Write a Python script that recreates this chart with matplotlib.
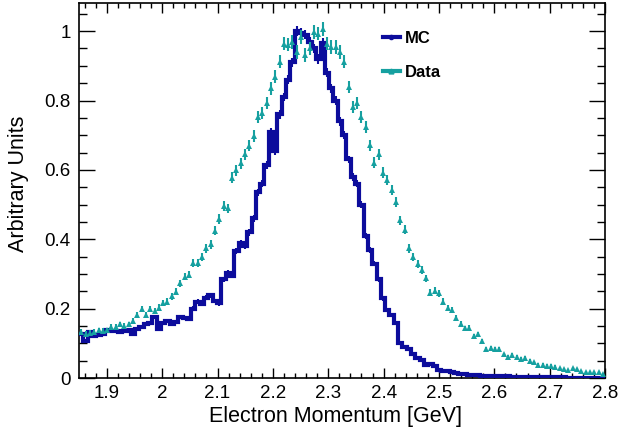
import numpy as np
import matplotlib.pyplot as plt
from matplotlib.lines import Line2D
from matplotlib.ticker import MultipleLocator, FuncFormatter

plt.rcParams['font.family'] = ['Liberation Sans', 'DejaVu Sans']

# binning of the momentum histograms (GeV)
p_min, p_max, n_bins = 1.85, 2.8, 122

# normalised MC histogram contents
mc_values = [
    0.127, 0.108, 0.133, 0.122, 0.124, 0.127, 0.138, 0.136, 0.136, 0.133,
    0.136, 0.138, 0.127, 0.141, 0.148, 0.155, 0.158, 0.175, 0.141, 0.159,
    0.165, 0.155, 0.162, 0.175, 0.172, 0.169, 0.200, 0.220, 0.213, 0.232,
    0.238, 0.222, 0.215, 0.285, 0.303, 0.295, 0.365, 0.390, 0.380, 0.420,
    0.460, 0.535, 0.560, 0.615, 0.710, 0.655, 0.760, 0.810, 0.860, 0.910,
    1.000, 0.995, 0.990, 0.970, 0.950, 0.920, 0.965, 0.880, 0.835, 0.800,
    0.740, 0.700, 0.630, 0.580, 0.560, 0.500, 0.410, 0.370, 0.330, 0.285,
    0.230, 0.196, 0.182, 0.160, 0.100, 0.090, 0.085, 0.070, 0.057, 0.052,
    0.037, 0.040, 0.035, 0.022, 0.021, 0.021, 0.016, 0.015, 0.012, 0.011,
    0.010, 0.010, 0.008, 0.007, 0.007, 0.007, 0.006, 0.005, 0.004, 0.005,
    0.004, 0.004, 0.003, 0.003, 0.003, 0.002, 0.003, 0.002, 0.002, 0.002,
    0.002, 0.001, 0.002, 0.001, 0.001, 0.001, 0.001, 0.001, 0.001, 0.001,
    0.001, 0.001,
]

# normalised data histogram contents
data_values = [
    0.133, 0.127, 0.130, 0.133, 0.138, 0.136, 0.138, 0.147, 0.147, 0.155,
    0.151, 0.155, 0.165, 0.181, 0.198, 0.183, 0.198, 0.192, 0.203, 0.217,
    0.220, 0.236, 0.249, 0.273, 0.292, 0.298, 0.332, 0.332, 0.350, 0.374,
    0.385, 0.424, 0.458, 0.497, 0.489, 0.578, 0.599, 0.619, 0.645, 0.670,
    0.697, 0.753, 0.763, 0.792, 0.835, 0.868, 0.912, 0.964, 0.961, 0.969,
    0.940, 0.984, 0.931, 0.950, 0.998, 0.993, 1.007, 0.964, 0.955, 0.955,
    0.940, 0.912, 0.839, 0.782, 0.792, 0.753, 0.724, 0.671, 0.620, 0.645,
    0.592, 0.571, 0.542, 0.508, 0.455, 0.428, 0.374, 0.350, 0.330, 0.311,
    0.287, 0.246, 0.252, 0.244, 0.220, 0.201, 0.196, 0.172, 0.156, 0.143,
    0.144, 0.121, 0.126, 0.107, 0.085, 0.087, 0.084, 0.084, 0.068, 0.062,
    0.067, 0.062, 0.055, 0.058, 0.050, 0.045, 0.038, 0.038, 0.036, 0.036,
    0.033, 0.028, 0.026, 0.023, 0.028, 0.025, 0.021, 0.018, 0.017, 0.017,
    0.018, 0.013,
]

# effective number of entries used for the statistical errors
mc_entries = 5000
data_entries = 2500

mc = np.array(mc_values)
data = np.array(data_values)
edges = np.linspace(p_min, p_max, n_bins + 1)
centers = 0.5 * (edges[:-1] + edges[1:])
mc_err = np.sqrt(mc / mc_entries)
data_err = np.sqrt(data / data_entries)

mc_color = '#0c0c9c'
data_color = '#16a0a0'

fig = plt.figure(figsize=(6.18, 4.36), dpi=100)
ax = fig.add_axes([0.128, 0.133, 0.851, 0.860])

# MC as a thick step histogram with its error bars
ax.vlines(centers, mc - mc_err, mc + mc_err, color=mc_color, linewidth=1.5, zorder=3)
ax.stairs(mc, edges, baseline=None, color=mc_color, linewidth=3, zorder=3)

# data points with errors
ax.errorbar(centers, data, yerr=data_err, fmt='^', color=data_color, markersize=4,
            elinewidth=1.5, capsize=1.3, capthick=1.2, markeredgewidth=0, zorder=4)

ax.set_xlim(p_min, p_max)
ax.set_ylim(0, 1.081)

ax.xaxis.set_major_locator(MultipleLocator(0.1))
ax.xaxis.set_minor_locator(MultipleLocator(0.02))
ax.yaxis.set_major_locator(MultipleLocator(0.2))
ax.yaxis.set_minor_locator(MultipleLocator(0.05))
fmt = FuncFormatter(lambda v, pos: f'{round(v, 3):g}')
ax.xaxis.set_major_formatter(fmt)
ax.yaxis.set_major_formatter(fmt)

ax.tick_params(which='both', direction='in', top=True, right=True, width=1.0,
               labelsize=13.5, colors='black')
ax.tick_params(axis='x', which='major', length=7, pad=5)
ax.tick_params(axis='x', which='minor', length=3.5)
ax.tick_params(axis='y', which='major', length=11.5, pad=6)
ax.tick_params(axis='y', which='minor', length=5.8)
for spine in ax.spines.values():
    spine.set_linewidth(1.2)

ax.set_xlabel('Electron Momentum [GeV]', fontsize=15.5)
ax.set_ylabel('Arbitrary Units', fontsize=15.5)
ax.xaxis.set_label_coords(0.487, -0.075)
ax.yaxis.set_label_coords(-0.096, 0.517)

handles = [
    Line2D([], [], color=mc_color, linewidth=3, marker='o', markersize=3),
    Line2D([], [], color=data_color, linewidth=3, marker='^', markersize=3.5),
]
ax.legend(handles, ['MC', 'Data'], loc='upper left', bbox_to_anchor=(0.578, 0.925),
          frameon=False, handlelength=1.0, handletextpad=0.3, labelspacing=1.1,
          borderpad=0, borderaxespad=0, prop={'weight': 'bold', 'size': 12})

fig.savefig('out.png', dpi=100)
